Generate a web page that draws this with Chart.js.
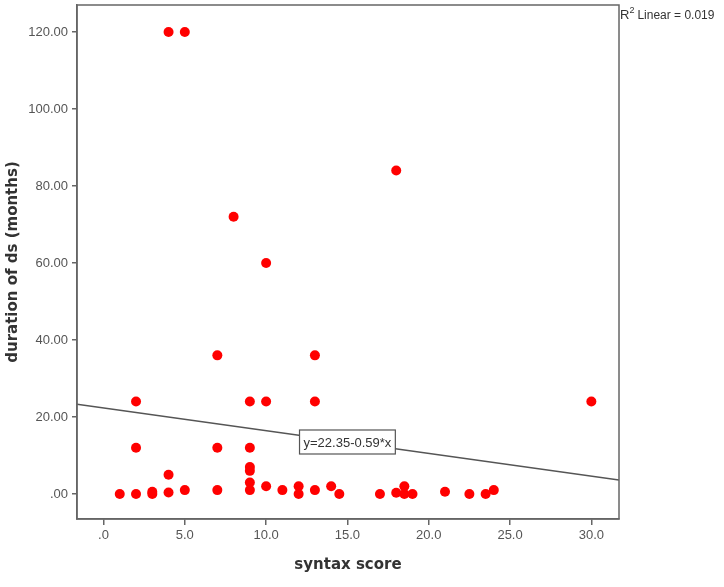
<!DOCTYPE html>
<html lang="en">
<head>
  <meta charset="UTF-8" />
  <title>Syntax score vs duration of ds</title>
  <script src="https://cdn.jsdelivr.net/npm/chart.js"></script>
  <style>
    body { margin: 0; background: #fff; }
    #wrap { width: 724px; height: 587px; position: relative; }
  </style>
</head>
<body>
  <div id="wrap"><canvas id="scatter"></canvas></div>

  <script>
    // values
    const syntaxScore = [4, 5, 18, 8, 10, 7, 13, 2, 9, 10, 13, 30, 2, 7, 9, 9, 9, 4, 9,
      1, 2, 3, 3, 4, 5, 7, 9, 10, 11, 12, 12, 13, 14, 14.5, 17, 18, 18.5, 18.5, 19, 21, 22.5, 23.5, 24];
    const durationMonths = [120, 120, 84, 72, 60, 36, 36, 24, 24, 24, 24, 24, 12, 12, 12, 7, 6, 5, 3,
      0, 0, 0, 0.6, 0.4, 1, 1, 1, 2, 1, 2, 0, 1, 2, 0, 0, 0.3, 2, 0, 0, 0.6, 0, 0, 1];

    const xTicks = [0, 5, 10, 15, 20, 25, 30];
    const yTicks = [0, 20, 40, 60, 80, 100, 120];
    const xRange = [-1.63, 31.7];
    const yRange = [-6.5, 127];

    // fit line shown on the plot: y = 22.35 - 0.59*x, R2 = 0.019
    const fitIntercept = 22.35;
    const fitSlope = -0.59;
    const fitLabel = 'y=22.35-0.59*x';
    const fitLabelAt = 15;
    const r2Text = 'Linear = 0.019';

    const points = syntaxScore.map((x, i) => ({ x, y: durationMonths[i] }));
    const fitLine = xRange.map(x => ({ x, y: fitIntercept + fitSlope * x }));

    const tickFont = { family: 'Arial, "Liberation Sans", sans-serif', size: 13 };
    const titleFont = { family: '"DejaVu Sans", Verdana, sans-serif', size: 15, weight: 'bold' };

    const frameAndLabels = {
      id: 'frameAndLabels',
      afterDatasetsDraw(chart) {
        const { ctx, chartArea: a, scales: { x, y } } = chart;
        ctx.save();
        // box round the plot area
        ctx.strokeStyle = '#666';
        ctx.lineWidth = 1.5;
        ctx.strokeRect(a.left, a.top, a.right - a.left, a.bottom - a.top);

        // equation label sitting on the fit line
        ctx.font = '13px Arial, "Liberation Sans", sans-serif';
        const px = x.getPixelForValue(fitLabelAt);
        const py = y.getPixelForValue(fitIntercept + fitSlope * fitLabelAt);
        const w = ctx.measureText(fitLabel).width + 8;
        const h = 24;
        ctx.fillStyle = '#fff';
        ctx.fillRect(px - w / 2, py - h / 2, w, h);
        ctx.strokeStyle = '#555';
        ctx.lineWidth = 1.2;
        ctx.strokeRect(px - w / 2, py - h / 2, w, h);
        ctx.fillStyle = '#333';
        ctx.textAlign = 'center';
        ctx.textBaseline = 'middle';
        ctx.fillText(fitLabel, px, py + 1);

        // R2 note at the top right
        ctx.textAlign = 'left';
        ctx.textBaseline = 'alphabetic';
        ctx.fillStyle = '#333';
        ctx.font = '13px Arial, "Liberation Sans", sans-serif';
        let tx = a.right + 1;
        ctx.fillText('R', tx, a.top + 14);
        tx += ctx.measureText('R').width;
        ctx.font = '9px Arial, "Liberation Sans", sans-serif';
        ctx.fillText('2', tx, a.top + 8);
        tx += ctx.measureText('2').width + 3;
        ctx.font = '12px Arial, "Liberation Sans", sans-serif';
        ctx.fillText(r2Text, tx, a.top + 14);
        ctx.restore();
      }
    };

    new Chart(document.getElementById('scatter'), {
      type: 'scatter',
      data: {
        datasets: [
          {
            label: 'duration',
            data: points,
            backgroundColor: '#ff0000',
            borderWidth: 0,
            pointRadius: 5,
            order: 0
          },
          {
            type: 'line',
            label: 'fit',
            data: fitLine,
            borderColor: '#555',
            borderWidth: 1.5,
            pointRadius: 0,
            fill: false,
            order: 1
          }
        ]
      },
      options: {
        responsive: true,
        maintainAspectRatio: false,
        animation: false,
        layout: { padding: { top: 5, right: 105, left: 0, bottom: 0 } },
        plugins: { legend: { display: false }, tooltip: { enabled: false } },
        scales: {
          x: {
            type: 'linear',
            min: xRange[0],
            max: xRange[1],
            afterBuildTicks: s => { s.ticks = xTicks.map(v => ({ value: v })); },
            afterFit: s => { s.height = 68; s.paddingLeft = 0; s.paddingRight = 0; },
            grid: { drawOnChartArea: false, drawTicks: true, tickLength: 6, color: '#666', lineWidth: 1.5 },
            border: { display: true, color: '#666', width: 1.5 },
            ticks: {
              font: tickFont,
              color: '#555',
              padding: 3,
              maxRotation: 0,
              callback: v => v === 0 ? '.0' : v.toFixed(1)
            },
            title: {
              display: true,
              text: 'syntax score',
              font: titleFont,
              color: '#333',
              padding: { top: 0, bottom: 13 }
            }
          },
          y: {
            type: 'linear',
            min: yRange[0],
            max: yRange[1],
            afterBuildTicks: s => { s.ticks = yTicks.map(v => ({ value: v })); },
            afterFit: s => { s.width = 77; s.paddingTop = 0; s.paddingBottom = 0; },
            grid: { drawOnChartArea: false, drawTicks: true, tickLength: 5, color: '#666', lineWidth: 1.5 },
            border: { display: true, color: '#666', width: 1.5 },
            ticks: {
              font: tickFont,
              color: '#555',
              padding: 4,
              callback: v => v === 0 ? '.00' : v.toFixed(2)
            },
            title: {
              display: true,
              text: 'duration of ds (months)',
              font: titleFont,
              color: '#333',
              padding: { top: 4, bottom: 0 }
            }
          }
        }
      },
      plugins: [frameAndLabels]
    });
  </script>
</body>
</html>
